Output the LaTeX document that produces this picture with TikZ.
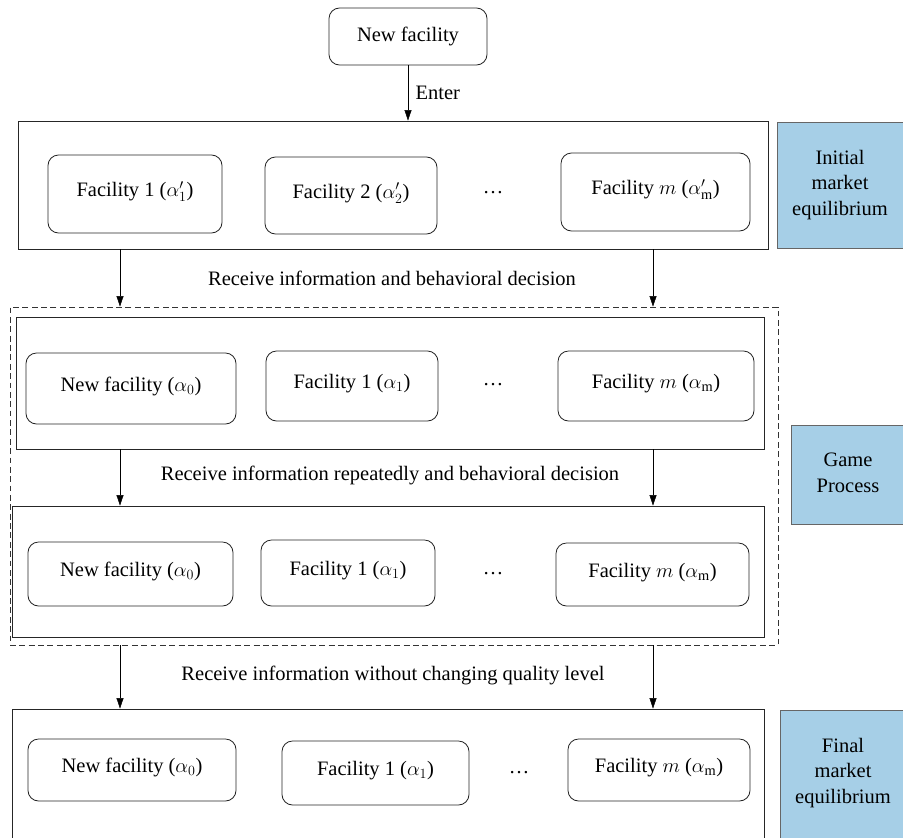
\documentclass[tikz,border=0pt]{standalone}
\usepackage{fontspec}
\setmainfont{Liberation Serif}
\usetikzlibrary{arrows.meta,fit}

\definecolor{stageblue}{RGB}{166,207,231}

\tikzset{
  unit/.style={draw=black!85, line width=0.7pt, rounded corners=9pt, inner sep=0pt},
  row/.style={draw=black!85, line width=0.7pt, inner sep=0pt},
  group/.style={draw=black!80, line width=0.7pt, dash pattern=on 5pt off 3pt, inner sep=0pt},
  stage/.style={draw=black!60, line width=0.7pt, fill=stageblue, inner sep=0pt},
}

\begin{document}
\begin{tikzpicture}[x=0.03cm, y=-0.03cm, >={Triangle[width=6pt,length=9pt]},
    font=\fontsize{17.5}{22}\selectfont]
        \clip (0,0) rectangle (903,837);
        \coordinate (cl) at (120,0);
        \coordinate (cr) at (653,0);

        \node[unit, fit={(329,8) (487,65)}, label=center:{New facility}] (newf) {};

        % rows of facilities
        \node[row, fit={(18,121) (768,249)}] (r1) {};
        \node[group, fit={(10,307) (778,645)}] (game) {};
        \node[row, fit={(16,317) (764,449)}] (r2) {};
        \node[row, fit={(12,506) (764,637)}] (r3) {};
        \node[row, fit={(12,709) (764,860)}] (r4) {};

        \foreach \nm/\xa/\ya/\xb/\yb/\txt in {
          a1/48/155/222/233/{Facility 1 ($\alpha'_1$)},
          a2/265/157/437/234/{Facility 2 ($\alpha'_2$)},
          am/561/153/750/231/{Facility $m$ ($\alpha'_{\mathrm{m}}$)},
          b0/26/353/236/424/{New facility ($\alpha_0$)},
          b1/266/351/438/421/{Facility 1 ($\alpha_1$)},
          bm/558/351/754/421/{Facility $m$ ($\alpha_{\mathrm{m}}$)},
          c0/28/542/233/606/{New facility ($\alpha_0$)},
          c1/261/540/435/606/{Facility 1 ($\alpha_1$)},
          cm/556/543/749/606/{Facility $m$ ($\alpha_{\mathrm{m}}$)},
          d0/28/739/236/801/{New facility ($\alpha_0$)},
          d1/282/741/469/805/{Facility 1 ($\alpha_1$)},
          dm/568/739/750/801/{Facility $m$ ($\alpha_{\mathrm{m}}$)}}{
          \node[unit, fit={(\xa,\ya) (\xb,\yb)}, label={[yshift=2pt]center:\txt}] (\nm) {};
        }
        \node at (493,193) (adots) {\dots};
        \node at (493,385) (bdots) {\dots};
        \node at (493,574) (cdots) {\dots};
        \node at (519,773) (ddots) {\dots};

        % stages
        \node[stage, fit={(777,122) (910,248)}] (s1) {};
        \node[align=center] at (840,185) (s1t) {Initial\\market\\equilibrium};
        \node[stage, fit={(791,425) (910,524)}] (s2) {};
        \node[align=center] at (848,473) (s2t) {Game\\Process};
        \node[stage, fit={(780,710) (910,887)}] (s3) {};
        \node[align=center] at (843,773) (s3t) {Final\\market\\equilibrium};

        \draw[->] (newf) -- (r1.north -| newf) node[midway, right=3pt] {Enter};
        \draw[->] (r1.south -| cl) -- (game.north -| cl);
        \draw[->] (r1.south -| cr) -- (game.north -| cr);
        \node at (392,278) (m1) {Receive information and behavioral decision};
        \draw[->] (r2.south -| cl) -- (r3.north -| cl);
        \draw[->] (r2.south -| cr) -- (r3.north -| cr);
        \node at (390,475) (m2) {Receive information repeatedly and behavioral decision};
        \draw[->] (game.south -| cl) -- (r4.north -| cl);
        \draw[->] (game.south -| cr) -- (r4.north -| cr);
        \node at (393,675) (m3) {Receive information without changing quality level};
\end{tikzpicture}
\end{document}
